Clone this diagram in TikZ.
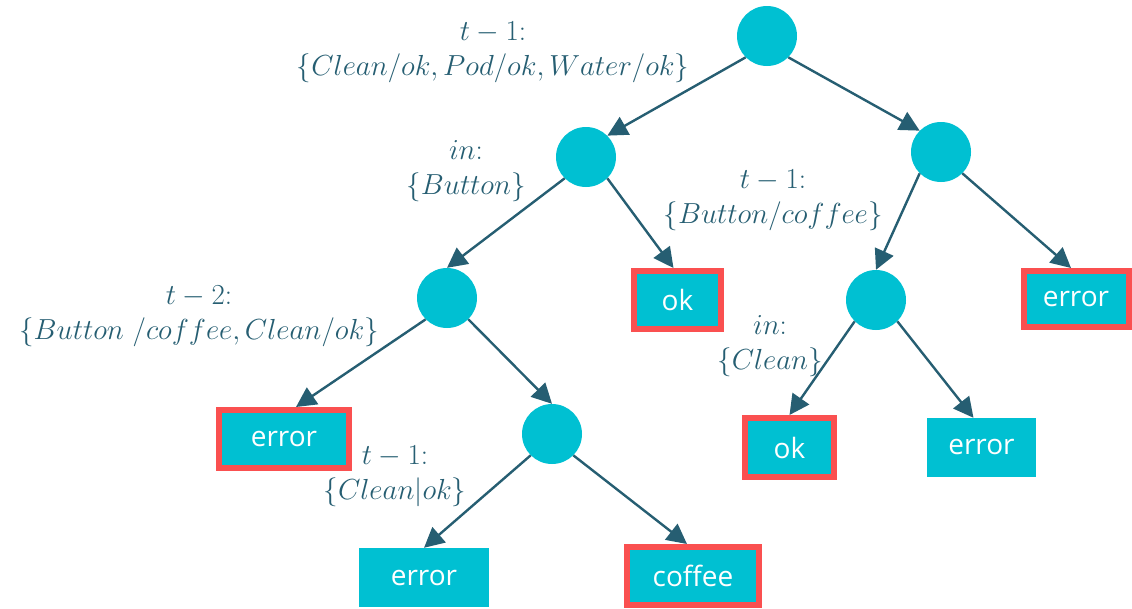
\RequirePackage{fix-cm}
\documentclass[tikz,border=0pt]{standalone}
\usepackage{fontspec}
\newfontfamily\boxfont{Open Sans}
\usetikzlibrary{arrows.meta}
\definecolor{nodecyan}{RGB}{0,192,210}
\definecolor{edgeteal}{RGB}{38,94,114}
\definecolor{markred}{RGB}{250,80,80}
\tikzset{
  dec/.style={circle, fill=nodecyan, minimum size=60pt, inner sep=0pt},
  leaf/.style={rectangle, fill=nodecyan, inner sep=0pt, text=white, font=\boxfont\fontsize{28}{30}\selectfont},
  hit/.style={leaf, draw=markred, line width=6pt},
  lab/.style={align=center, text=edgeteal, font=\fontsize{29}{35}\selectfont, inner sep=0pt},
  edge/.style={draw=edgeteal, line width=2.4pt, -{Triangle[length=20pt,width=20pt]}}
}
\begin{document}
\begin{tikzpicture}[x=1pt,y=-1pt]
\useasboundingbox (0,0) rectangle (1132,608);
% decision nodes
\node[dec] (root) at (767,36) {};
\node[dec] (A) at (586,157) {};
\node[dec] (B) at (941,152) {};
\node[dec] (C) at (447,298) {};
\node[dec] (D) at (552,434) {};
\node[dec] (E) at (876,300) {};
% leaves
\node[hit, minimum width=87pt, minimum height=58pt] (okA) at (677.5,300) {ok};
\node[hit, minimum width=105pt, minimum height=56pt] (errB) at (1076,299) {error};
\node[hit, minimum width=89pt, minimum height=59pt] (okE) at (789.5,447.5) {ok};
\node[leaf, minimum width=109pt, minimum height=59pt] (errE) at (981.5,447.5) {error};
\node[hit, minimum width=130pt, minimum height=58pt] (errC) at (284,439) {error};
\node[leaf, minimum width=130pt, minimum height=59pt] (errD) at (424,577.5) {error};
\node[hit, minimum width=132pt, minimum height=58pt] (cof) at (693,576) {coffee};
% labels
\node[lab] (l1) at (493,52) {$t-1$:\\$\{Clean/ok, Pod/ok, Water/ok\}$};
\node[lab] (l2) at (466,171) {$in$:\\$\{Button\}$};
\node[lab] (l3) at (773,200) {$t-1$:\\$\{Button/coffee\}$};
\node[lab] (l4) at (199,316) {$t-2$:\\$\{Button\ /coffee, Clean/ok\}$};
\node[lab] (l5) at (770,346) {$in$:\\$\{Clean\}$};
\node[lab] (l6) at (395,476) {$t-1$:\\$\{Clean|ok\}$};
% edges
\draw[edge] (root.south west) -- (A.north east);
\draw[edge] (root.south east) -- (B.north west);
\draw[edge] (A.south west) -- (C.north);
\draw[edge] (A.south east) -- ([xshift=-4pt]okA.north);
\draw[edge] (C.south west) -- ([xshift=12pt]errC.north);
\draw[edge] (C.south east) -- (D.north);
\draw[edge] (D.south west) -- (errD.north);
\draw[edge] (D.south east) -- ([xshift=-6pt]cof.north);
\draw[edge] (B.south west) -- (E.north);
\draw[edge] (B.south east) -- ([xshift=-5pt]errB.north);
\draw[edge] (E.south west) -- (okE.north);
\draw[edge] (E.south east) -- ([xshift=-8pt]errE.north);
\end{tikzpicture}
\end{document}
